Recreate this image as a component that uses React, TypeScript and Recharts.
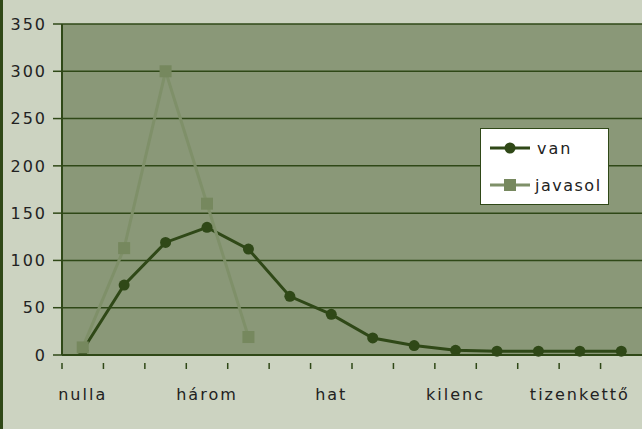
import React from 'react';
import { CartesianGrid, Line, LineChart, XAxis, YAxis } from 'recharts';

const CATEGORIES = [
  'nulla', 'egy', 'kettő', 'három', 'négy', 'öt', 'hat',
  'hét', 'nyolc', 'kilenc', 'tíz', 'tizenegy', 'tizenkettő', 'tizenhárom',
];
const VAN = [5, 74, 119, 135, 112, 62, 43, 18, 10, 5, 4, 4, 4, 4];
const JAVASOL: (number | null)[] = [8, 113, 300, 160, 19, null, null, null, null, null, null, null, null, null];
const Y_TICKS = [0, 50, 100, 150, 200, 250, 300, 350];

const data = CATEGORIES.map((name, i) => ({ name, van: VAN[i], javasol: JAVASOL[i] }));

const W = 642;
const H = 429;
const PLOT_LEFT = 62;
const BAND = (W - PLOT_LEFT) / CATEGORIES.length;

const FONT = "'DejaVu Sans', sans-serif";
const FS = 16;
const DARK = '#2f4817';
const LIGHT = '#7f9069';
const SQUARE = '#76885e';

function XTick(props: any) {
  const { x, y, payload, index } = props;
  return (
    <g>
      <line x1={x - BAND / 2} y1={y} x2={x - BAND / 2} y2={y + 6} stroke={DARK} strokeWidth={1.5} />
      {index % 3 === 0 && (
        <text x={x} y={y + 37} textAnchor="middle" fill="#222" fontSize={FS} fontFamily={FONT} letterSpacing={2}>
          {payload.value}
        </text>
      )}
    </g>
  );
}

function SquareDot(props: any) {
  const { cx, cy, index } = props;
  if (cx == null || cy == null) return <g key={`sq-${index}`} />;
  return <rect key={`sq-${index}`} x={cx - 6} y={cy - 6} width={12} height={12} fill={SQUARE} />;
}

function LegendBox() {
  return (
    <div
      style={{
        position: 'absolute', left: 480, top: 128, width: 127, height: 75,
        background: '#fff', border: `1.5px solid ${DARK}`,
      }}
    >
      <svg width={127} height={75} style={{ position: 'absolute', left: 0, top: 0 }}>
        <line x1={9} y1={19} x2={49} y2={19} stroke={DARK} strokeWidth={3} />
        <circle cx={29} cy={19} r={5.5} fill={DARK} />
        <line x1={9} y1={56} x2={49} y2={56} stroke={LIGHT} strokeWidth={3} />
        <rect x={23} y={50} width={12} height={12} fill={SQUARE} />
        <text x={56} y={25} fill="#222" fontSize={FS} fontFamily={FONT} letterSpacing={2}>van</text>
        <text x={54} y={62} fill="#222" fontSize={FS} fontFamily={FONT} letterSpacing={1.5}>javasol</text>
      </svg>
    </div>
  );
}

export default function App() {
  return (
    <div
      style={{
        position: 'absolute', left: 0, top: 0, width: W, height: H,
        background: '#ccd3c1', overflow: 'hidden',
      }}
    >
      <LineChart width={W} height={H} data={data} margin={{ top: 24, right: 0, bottom: 34, left: 0 }}>
        <CartesianGrid vertical={false} fill="#8a9878" stroke={DARK} strokeWidth={1.5} fillOpacity={1} />
        <XAxis
          dataKey="name"
          interval={0}
          height={40}
          padding={{ left: BAND / 2, right: BAND / 2 }}
          tick={<XTick />}
          tickLine={false}
          axisLine={{ stroke: DARK, strokeWidth: 2 }}
        />
        <YAxis
          width={PLOT_LEFT}
          domain={[0, 350]}
          ticks={Y_TICKS}
          tickSize={9}
          tickMargin={6}
          tickLine={{ stroke: DARK, strokeWidth: 1.5 }}
          axisLine={{ stroke: DARK, strokeWidth: 2 }}
          tick={{ fill: '#222', fontSize: FS, fontFamily: FONT, letterSpacing: 2 }}
        />
        <Line
          type="linear"
          dataKey="van"
          stroke={DARK}
          strokeWidth={3}
          dot={{ r: 5.5, fill: DARK, stroke: 'none' }}
          isAnimationActive={false}
        />
        <Line
          type="linear"
          dataKey="javasol"
          stroke={LIGHT}
          strokeWidth={3}
          dot={<SquareDot />}
          connectNulls={false}
          isAnimationActive={false}
        />
      </LineChart>
      <LegendBox />
      <div style={{ position: 'absolute', left: 0, top: 0, width: 3, height: H, background: DARK }} />
    </div>
  );
}
